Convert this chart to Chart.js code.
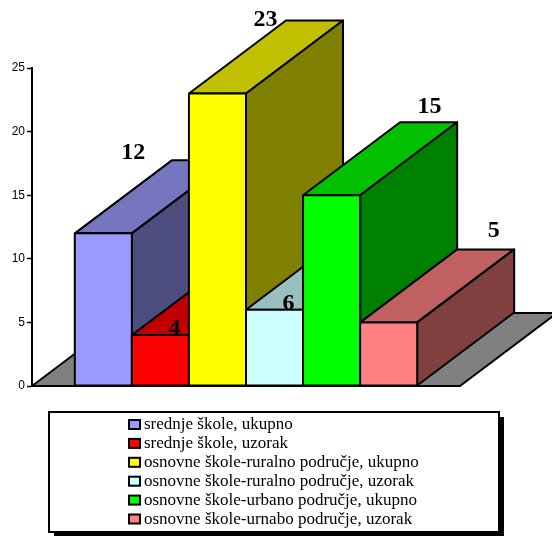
<!DOCTYPE html>
<html>
<head>
<meta charset="utf-8">
<script src="https://cdn.jsdelivr.net/npm/chart.js@4/dist/chart.umd.min.js"></script>
<style>
  html, body { margin: 0; padding: 0; background: #ffffff; }
  #wrap { width: 552px; height: 536px; }
</style>
</head>
<body>
<div id="wrap"><canvas id="chart" width="552" height="536"></canvas></div>
<script>
// Number of schools per group
const categories = [''];
const seriesNames = [
  'srednje škole, ukupno',
  'srednje škole, uzorak',
  'osnovne škole-ruralno područje, ukupno',
  'osnovne škole-ruralno područje, uzorak',
  'osnovne škole-urbano područje, ukupno',
  'osnovne škole-urnabo područje, uzorak'
];
const seriesValues = [12, 4, 23, 6, 15, 5];
const yTicks = [0, 5, 10, 15, 20, 25];

// Face colours of each block: front, top, side
const frontColors = ['#9999FF', '#FF0000', '#FFFF00', '#CCFFFF', '#00FF00', '#FF8080'];
const topColors   = ['#7676BF', '#C00000', '#C0C000', '#99C0C0', '#00C000', '#C06060'];
const sideColors  = ['#4D4D80', '#800000', '#808000', '#668080', '#008000', '#804040'];

// Oblique depth of the 3D projection (pixels)
const DEPTH_X = 97;
const DEPTH_Y = -73;

// Where each value label sits, relative to the front-top centre of its block
const valueLabelOffsets = [
  [30, -81], [14, -6], [48, -74], [14, -6], [98, -88], [105, -92]
];

const blocks3d = {
  id: 'blocks3d',
  beforeDatasetsDraw(chart) {
    const { ctx, chartArea } = chart;
    const y0 = chart.scales.y.getPixelForValue(0);
    ctx.save();
    ctx.beginPath();
    ctx.moveTo(chartArea.left, y0);
    ctx.lineTo(chartArea.right, y0);
    ctx.lineTo(chartArea.right + DEPTH_X, y0 + DEPTH_Y);
    ctx.lineTo(chartArea.left + DEPTH_X, y0 + DEPTH_Y);
    ctx.closePath();
    ctx.fillStyle = '#808080';
    ctx.fill();
    ctx.lineWidth = 2;
    ctx.strokeStyle = '#000000';
    ctx.lineJoin = 'round';
    ctx.stroke();
    ctx.restore();
  },
  afterDatasetsDraw(chart) {
    const { ctx } = chart;
    ctx.save();
    ctx.lineWidth = 2;
    ctx.strokeStyle = '#000000';
    ctx.lineJoin = 'round';
    const face = (pts, color) => {
      ctx.beginPath();
      ctx.moveTo(pts[0][0], pts[0][1]);
      for (let k = 1; k < pts.length; k++) ctx.lineTo(pts[k][0], pts[k][1]);
      ctx.closePath();
      ctx.fillStyle = color;
      ctx.fill();
      ctx.stroke();
    };
    chart.data.datasets.forEach((ds, i) => {
      const el = chart.getDatasetMeta(i).data[0];
      const l = el.x - el.width / 2, r = el.x + el.width / 2;
      const t = el.y, b = el.base;
      face([[l, t], [r, t], [r + DEPTH_X, t + DEPTH_Y], [l + DEPTH_X, t + DEPTH_Y]], topColors[i]);
      face([[r, t], [r + DEPTH_X, t + DEPTH_Y], [r + DEPTH_X, b + DEPTH_Y], [r, b]], sideColors[i]);
      face([[l, t], [r, t], [r, b], [l, b]], frontColors[i]);
    });
    // value labels
    ctx.fillStyle = '#000000';
    ctx.font = 'bold 24px "Liberation Serif", "Times New Roman", serif';
    ctx.textAlign = 'center';
    ctx.textBaseline = 'middle';
    chart.data.datasets.forEach((ds, i) => {
      const el = chart.getDatasetMeta(i).data[0];
      const off = valueLabelOffsets[i];
      ctx.fillText(String(ds.data[0]), el.x + off[0], el.y + off[1]);
    });
    ctx.restore();
  },
  afterDraw(chart) {
    // legend box with drop shadow
    const { ctx } = chart;
    const bx = 49, by = 412, bw = 450, bh = 120;
    ctx.save();
    ctx.fillStyle = '#000000';
    ctx.fillRect(bx + 5, by + 5, bw, bh);
    ctx.fillStyle = '#ffffff';
    ctx.fillRect(bx, by, bw, bh);
    ctx.lineWidth = 2;
    ctx.strokeStyle = '#000000';
    ctx.strokeRect(bx, by, bw, bh);
    ctx.font = '17px "Liberation Serif", "Times New Roman", serif';
    ctx.textAlign = 'left';
    ctx.textBaseline = 'middle';
    chart.data.datasets.forEach((ds, i) => {
      const sy = 420 + i * 18.9;
      ctx.fillStyle = frontColors[i];
      ctx.fillRect(129, sy, 11, 9);
      ctx.lineWidth = 2;
      ctx.strokeStyle = '#000000';
      ctx.strokeRect(129, sy, 11, 9);
      ctx.fillStyle = '#000000';
      ctx.fillText(ds.label, 144, sy + 5);
    });
    ctx.restore();
  }
};

new Chart(document.getElementById('chart'), {
  type: 'bar',
  data: {
    labels: categories,
    datasets: seriesNames.map((name, i) => ({
      label: name,
      data: [seriesValues[i]],
      backgroundColor: 'rgba(0,0,0,0)',
      borderWidth: 0
    }))
  },
  options: {
    responsive: false,
    animation: false,
    events: [],
    layout: { padding: { left: 0, right: 92, top: 68, bottom: 150 } },
    datasets: { bar: { categoryPercentage: 0.8, barPercentage: 1.0 } },
    plugins: {
      legend: { display: false },
      tooltip: { enabled: false },
      title: { display: false }
    },
    scales: {
      x: { display: false },
      y: {
        min: 0,
        max: 25,
        afterBuildTicks(scale) { scale.ticks = yTicks.map(v => ({ value: v })); },
        afterFit(scale) { scale.width = 32; },
        ticks: {
          color: '#000000',
          padding: 2,
          font: { family: '"Liberation Sans", Arial, sans-serif', size: 12 }
        },
        grid: {
          drawOnChartArea: false,
          drawTicks: true,
          tickLength: 5,
          tickColor: '#000000',
          tickWidth: 1.5
        },
        border: { display: true, color: '#000000', width: 2 }
      }
    }
  },
  plugins: [blocks3d]
});
</script>
</body>
</html>
